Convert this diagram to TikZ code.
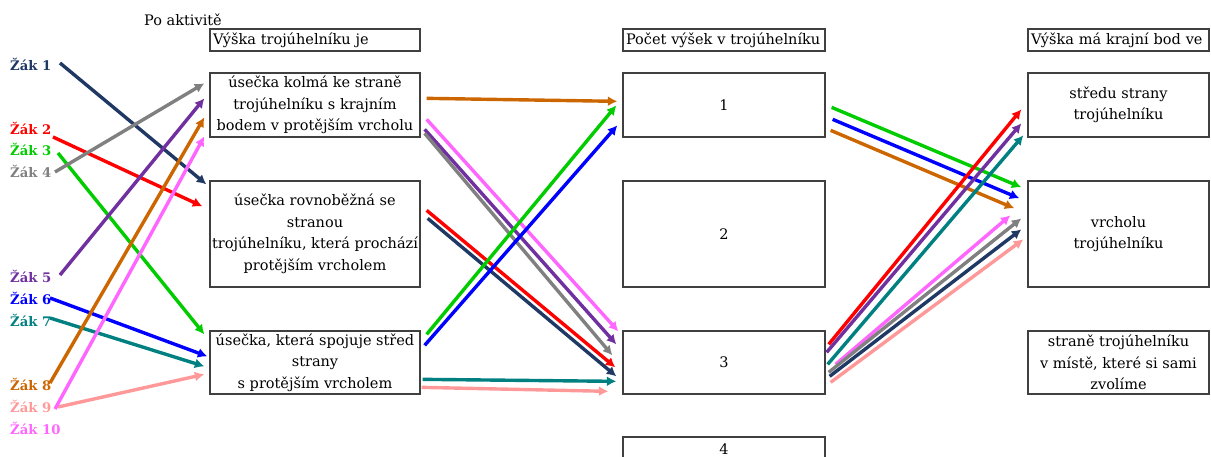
\documentclass[tikz,border=0pt]{standalone}
\usepackage{fontspec}
\setmainfont{DejaVu Serif}
\usetikzlibrary{arrows.meta,calc}
\definecolor{cnavy}{RGB}{31,56,100}
\definecolor{cred}{RGB}{255,0,0}
\definecolor{cgreen}{RGB}{0,204,0}
\definecolor{cgray}{RGB}{128,128,128}
\definecolor{cpurple}{RGB}{112,48,160}
\definecolor{cblue}{RGB}{0,0,255}
\definecolor{cteal}{RGB}{0,128,128}
\definecolor{corange}{RGB}{204,102,0}
\definecolor{cpink}{RGB}{255,153,153}
\definecolor{cmag}{RGB}{255,102,255}
\definecolor{cborder}{RGB}{64,64,64}
\begin{document}
\begin{tikzpicture}[x=1pt,y=-1pt,
  txt/.style={font=\fontsize{14.5}{21.5}\selectfont},
  box/.style={txt, draw=cborder, line width=1.3pt, inner sep=0pt, align=center},
  colA/.style={box, minimum width=210pt},
  colB/.style={box, minimum width=202pt},
  colC/.style={box, minimum width=181pt},
  hdr/.style={draw=cborder, line width=1.3pt, inner xsep=3pt, inner ysep=0pt, minimum height=22pt, align=left, txt},
  stud/.style={font=\fontsize{13.2}{21.5}\selectfont\bfseries, anchor=west, inner sep=0pt},
  arr/.style={line width=3.4pt, -{Latex[length=9.5pt,width=10pt]}}
]
\useasboundingbox (0,0) rectangle (1211,457);

\node[txt, inner sep=0pt] (po) at (183,20) {Po aktivitě};

% headers
\node[hdr, text width=204pt] (H1) at (315,40) {Výška trojúhelníku je};
\node[hdr, text width=196pt] (H2) at (724,40) {Počet výšek v trojúhelníku};
\node[hdr, text width=175pt] (H3) at (1118.5,40) {Výška má krajní bod ve};

% column A
\node[colA, minimum height=64pt] (A1) at (315,105) {úsečka kolmá ke straně\\trojúhelníku s krajním\\bodem v protějším vrcholu};
\node[colA, minimum height=106pt] (A2) at (315,234) {úsečka rovnoběžná se\\stranou\\trojúhelníku, která prochází\\protějším vrcholem};
\node[colA, minimum height=63pt] (A3) at (315,362.5) {úsečka, která spojuje střed\\strany\\s protějším vrcholem};

% column B
\node[colB, minimum height=64pt] (B1) at (724,105) {1};
\node[colB, minimum height=106pt] (B2) at (724,234) {2};
\node[colB, minimum height=63pt] (B3) at (724,362.5) {3};
\node[colB, minimum height=24pt] (B4) at (724,449) {4};

% column C
\node[colC, minimum height=64pt] (C1) at (1118.5,105) {středu strany\\trojúhelníku};
\node[colC, minimum height=106pt] (C2) at (1118.5,234) {vrcholu\\trojúhelníku};
\node[colC, minimum height=63pt] (C3) at (1118.5,362.5) {straně trojúhelníku\\v místě, které si sami\\zvolíme};

% students
\node[stud, text=cnavy] (s1) at (10,64) {Žák 1};
\node[stud, text=cred] (s2) at (10,128) {Žák 2};
\node[stud, text=cgreen] (s3) at (10,149) {Žák 3};
\node[stud, text=cgray] (s4) at (10,171) {Žák 4};
\node[stud, text=cpurple] (s5) at (10,276) {Žák 5};
\node[stud, text=cblue] (s6) at (10,298) {Žák 6};
\node[stud, text=cteal] (s7) at (10,320) {Žák 7};
\node[stud, text=corange] (s8) at (10,384) {Žák 8};
\node[stud, text=cpink] (s9) at (10,406) {Žák 9};
\node[stud, text=cmag] (s10) at (10,428) {Žák 10};

% start points next to the student labels
\coordinate (o1) at (60,63);
\coordinate (o2) at (53,137);
\coordinate (o3) at (58,153);
\coordinate (o4) at (55,172);
\coordinate (o5) at (60,275);
\coordinate (o6) at (50,298);
\coordinate (o7) at (50,318);
\coordinate (o8) at (50,383);
\coordinate (o9) at (58,407);
\coordinate (o10) at (55,409);

% students -> column A
\draw[arr, cnavy]   (o1) -- ($(A2.north west)+(-3,4)$);
\draw[arr, cred]    (o2) -- ($(A2.north west)+(-7,26)$);
\draw[arr, cgreen]  (o3) -- ($(A3.north west)+(-5,4)$);
\draw[arr, cgray]   (o4) -- ($(A1.north west)+(-5,11)$);
\draw[arr, cpurple] (o5) -- ($(A1.north west)+(-5,26)$);
\draw[arr, cblue]   (o6) -- ($(A3.north west)+(-2,26)$);
\draw[arr, cteal]   (o7) -- ($(A3.north west)+(-5,36)$);
\draw[arr, corange] (o8) -- ($(A1.north west)+(-5,45)$);
\draw[arr, cpink]   (o9) -- ($(A3.north west)+(-5,44)$);
\draw[arr, cmag]    (o10) -- ($(A1.north west)+(-5,64)$);

% column A -> column B
\draw[arr, corange] ($(A1.north east)+(6,26)$) -- ($(B1.north west)+(-5,29)$);
\draw[arr, cmag]    ($(A1.north east)+(6,47)$) -- ($(B3.north west)+(-4,1)$);
\draw[arr, cpurple] ($(A1.north east)+(4,57)$) -- ($(B3.north west)+(-6,14)$);
\draw[arr, cgray]   ($(A1.north east)+(4,61)$) -- ($(B3.north west)+(-10,25)$);
\draw[arr, cred]    ($(A2.north east)+(6,30)$) -- ($(B3.north west)+(-7,37)$);
\draw[arr, cnavy]   ($(A2.north east)+(7,38)$) -- ($(B3.north west)+(-6,46)$);
\draw[arr, cgreen]  ($(A3.north east)+(6,4)$) -- ($(B1.north west)+(-6,33)$);
\draw[arr, cblue]   ($(A3.north east)+(4,15)$) -- ($(B1.north west)+(-5,53)$);
\draw[arr, cteal]   ($(A3.north east)+(2,49)$) -- ($(B3.north west)+(-6,51)$);
\draw[arr, cpink]   ($(A3.north east)+(1,57)$) -- ($(B3.north west)+(-14,61)$);

% column B -> column C
\draw[arr, cgreen]  ($(B1.north east)+(6,35)$) -- ($(C2.north west)+(-6,7)$);
\draw[arr, cblue]   ($(B1.north east)+(7,47)$) -- ($(C2.north west)+(-8,18)$);
\draw[arr, corange] ($(B1.north east)+(5,58)$) -- ($(C2.north west)+(-13,28)$);
\draw[arr, cred]    ($(B3.north east)+(3,14)$) -- ($(C1.north west)+(-6,37)$);
\draw[arr, cpurple] ($(B3.north east)+(1,22)$) -- ($(C1.north west)+(-6,51)$);
\draw[arr, cteal]   ($(B3.north east)+(2,34)$) -- ($(C1.north west)+(-4,63)$);
\draw[arr, cmag]    ($(B3.north east)+(10,34)$) -- ($(C2.north west)+(-17,35)$);
\draw[arr, cgray]   ($(B3.north east)+(3,42)$) -- ($(C2.north west)+(-6,38)$);
\draw[arr, cnavy]   ($(B3.north east)+(4,46)$) -- ($(C2.north west)+(-6,49)$);
\draw[arr, cpink]   ($(B3.north east)+(5,52)$) -- ($(C2.north west)+(-4,59)$);
\end{tikzpicture}
\end{document}
